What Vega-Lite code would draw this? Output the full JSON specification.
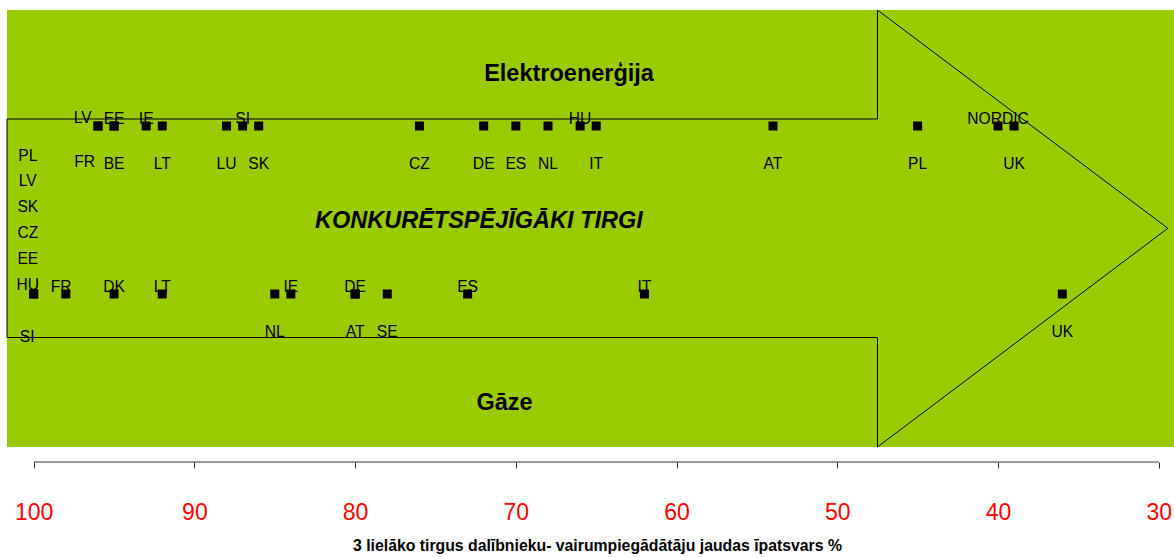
{
  "$schema": "https://vega.github.io/schema/vega-lite/v6.json",
  "width": 1167,
  "height": 452,
  "autosize": {"type": "none"},
  "padding": {"left": 7, "top": 10, "right": 0, "bottom": 95},
  "background": "white",
  "config": {"view": {"stroke": null}, "font": "Liberation Sans"},
  "datasets": {
    "panel": [{"share": 101.661, "share2": 29.048, "level": 15, "level2": 452}],
    "arrow": [
      {"order": 1, "share": 101.661, "level": 343},
      {"order": 2, "share": 47.5, "level": 343},
      {"order": 3, "share": 47.5, "level": 452},
      {"order": 4, "share": 29.43, "level": 233.7},
      {"order": 5, "share": 47.5, "level": 15},
      {"order": 6, "share": 47.5, "level": 124.5},
      {"order": 7, "share": 101.661, "level": 124.5},
      {"order": 8, "share": 101.661, "level": 343}
    ],
    "axisline": [{"share": 100, "share2": 30, "level": 0}],
    "points": [
      {"market": "Elektroenerģija", "country": "LV", "share": 96, "level": 336, "side": "above-shift"},
      {"market": "Elektroenerģija", "country": "FR", "share": 96, "level": 336, "side": "below-shift"},
      {"market": "Elektroenerģija", "country": "EE", "share": 95, "level": 336, "side": "above"},
      {"market": "Elektroenerģija", "country": "BE", "share": 95, "level": 336, "side": "below"},
      {"market": "Elektroenerģija", "country": "IE", "share": 93, "level": 336, "side": "above"},
      {"market": "Elektroenerģija", "country": "LT", "share": 92, "level": 336, "side": "below"},
      {"market": "Elektroenerģija", "country": "LU", "share": 88, "level": 336, "side": "below"},
      {"market": "Elektroenerģija", "country": "SI", "share": 87, "level": 336, "side": "above"},
      {"market": "Elektroenerģija", "country": "SK", "share": 86, "level": 336, "side": "below"},
      {"market": "Elektroenerģija", "country": "CZ", "share": 76, "level": 336, "side": "below"},
      {"market": "Elektroenerģija", "country": "DE", "share": 72, "level": 336, "side": "below"},
      {"market": "Elektroenerģija", "country": "ES", "share": 70, "level": 336, "side": "below"},
      {"market": "Elektroenerģija", "country": "NL", "share": 68, "level": 336, "side": "below"},
      {"market": "Elektroenerģija", "country": "HU", "share": 66, "level": 336, "side": "above"},
      {"market": "Elektroenerģija", "country": "IT", "share": 65, "level": 336, "side": "below"},
      {"market": "Elektroenerģija", "country": "AT", "share": 54, "level": 336, "side": "below"},
      {"market": "Elektroenerģija", "country": "PL", "share": 45, "level": 336, "side": "below"},
      {"market": "Elektroenerģija", "country": "NORDIC", "share": 40, "level": 336, "side": "above"},
      {"market": "Elektroenerģija", "country": "UK", "share": 39, "level": 336, "side": "below"},
      {"market": "Gāze", "country": "PL\nLV\nSK\nCZ\nEE\nHU", "share": 100, "level": 168, "side": "stack"},
      {"market": "Gāze", "country": "SI", "share": 100, "level": 168, "side": "below-stack"},
      {"market": "Gāze", "country": "FR", "share": 98, "level": 168, "side": "above-nudge"},
      {"market": "Gāze", "country": "DK", "share": 95, "level": 168, "side": "above"},
      {"market": "Gāze", "country": "LT", "share": 92, "level": 168, "side": "above"},
      {"market": "Gāze", "country": "NL", "share": 85, "level": 168, "side": "below"},
      {"market": "Gāze", "country": "IE", "share": 84, "level": 168, "side": "above"},
      {"market": "Gāze", "country": "DE", "share": 80, "level": 168, "side": "above"},
      {"market": "Gāze", "country": "AT", "share": 80, "level": 168, "side": "below"},
      {"market": "Gāze", "country": "SE", "share": 78, "level": 168, "side": "below"},
      {"market": "Gāze", "country": "ES", "share": 73, "level": 168, "side": "above"},
      {"market": "Gāze", "country": "IT", "share": 62, "level": 168, "side": "above"},
      {"market": "Gāze", "country": "UK", "share": 36, "level": 168, "side": "below"}
    ],
    "titles": [
      {"text": "Elektroenerģija", "share": 66.69, "level": 381.3, "style": "normal"},
      {"text": "Gāze", "share": 70.7, "level": 52, "style": "normal"},
      {"text": "KONKURĒTSPĒJĪGĀKI TIRGI", "share": 72.3, "level": 233.7, "style": "italic"}
    ]
  },
  "encoding": {
    "x": {
      "field": "share",
      "type": "quantitative",
      "scale": {"domain": [29.048, 101.661], "reverse": true, "nice": false, "zero": false},
      "axis": {
        "values": [100, 90, 80, 70, 60, 50, 40, 30],
        "domain": false,
        "grid": false,
        "ticks": true,
        "tickSize": 6,
        "tickColor": "#333333",
        "tickWidth": 1,
        "labelColor": "#FF0000",
        "labelFont": "Liberation Sans",
        "labelFontSize": 23,
        "labelPadding": 33,
        "labelFlush": false,
        "labelOverlap": false,
        "title": "3 lielāko tirgus dalībnieku- vairumpiegādātāju jaudas īpatsvars  %",
        "titleFont": "Liberation Sans",
        "titleFontSize": 15.8,
        "titleFontWeight": "bold",
        "titleColor": "#000000",
        "titleBaseline": "alphabetic",
        "titleAlign": "center",
        "titleX": 590,
        "titleY": 88
      }
    },
    "y": {
      "field": "level",
      "type": "quantitative",
      "scale": {"domain": [0, 452], "nice": false, "zero": false},
      "axis": null
    }
  },
  "layer": [
    {
      "data": {"name": "panel"},
      "mark": {"type": "rect", "color": "#99CC00"},
      "encoding": {"x2": {"field": "share2"}, "y2": {"field": "level2"}}
    },
    {
      "data": {"name": "arrow"},
      "mark": {"type": "line", "color": "#000000", "strokeWidth": 1},
      "encoding": {"order": {"field": "order", "type": "quantitative"}}
    },
    {
      "data": {"name": "axisline"},
      "mark": {"type": "rule", "color": "#333333", "strokeWidth": 1},
      "encoding": {"x2": {"field": "share2"}}
    },
    {
      "data": {"name": "points"},
      "mark": {"type": "point", "shape": "square", "filled": true, "color": "#000000", "size": 81, "opacity": 1}
    },
    {
      "data": {"name": "points"},
      "transform": [{"filter": "datum.side == 'above'"}],
      "mark": {"type": "text", "fontSize": 15.6, "color": "#000000", "align": "center", "baseline": "middle", "dy": -7},
      "encoding": {"text": {"field": "country"}}
    },
    {
      "data": {"name": "points"},
      "transform": [{"filter": "datum.side == 'below'"}],
      "mark": {"type": "text", "fontSize": 15.6, "color": "#000000", "align": "center", "baseline": "middle", "dy": 38.3},
      "encoding": {"text": {"field": "country"}}
    },
    {
      "data": {"name": "points"},
      "transform": [{"filter": "datum.side == 'above-shift'"}],
      "mark": {"type": "text", "fontSize": 15.6, "color": "#000000", "align": "center", "baseline": "middle", "dx": -15.3, "dy": -7.8},
      "encoding": {"text": {"field": "country"}}
    },
    {
      "data": {"name": "points"},
      "transform": [{"filter": "datum.side == 'below-shift'"}],
      "mark": {"type": "text", "fontSize": 15.6, "color": "#000000", "align": "center", "baseline": "middle", "dx": -13.3, "dy": 36.4},
      "encoding": {"text": {"field": "country"}}
    },
    {
      "data": {"name": "points"},
      "transform": [{"filter": "datum.side == 'above-nudge'"}],
      "mark": {"type": "text", "fontSize": 15.6, "color": "#000000", "align": "center", "baseline": "middle", "dx": -4.8, "dy": -7},
      "encoding": {"text": {"field": "country"}}
    },
    {
      "data": {"name": "points"},
      "transform": [{"filter": "datum.side == 'stack'"}],
      "mark": {"type": "text", "fontSize": 15.6, "color": "#000000", "align": "center", "baseline": "middle", "lineBreak": "\n", "lineHeight": 25.8, "dx": -5.9, "dy": -138.3},
      "encoding": {"text": {"field": "country"}}
    },
    {
      "data": {"name": "points"},
      "transform": [{"filter": "datum.side == 'below-stack'"}],
      "mark": {"type": "text", "fontSize": 15.6, "color": "#000000", "align": "center", "baseline": "middle", "dx": -6.5, "dy": 43.1},
      "encoding": {"text": {"field": "country"}}
    },
    {
      "data": {"name": "titles"},
      "transform": [{"filter": "datum.style == 'normal'"}],
      "mark": {"type": "text", "fontSize": 23.5, "fontWeight": "bold", "color": "#000000", "align": "center", "baseline": "alphabetic"},
      "encoding": {"text": {"field": "text"}}
    },
    {
      "data": {"name": "titles"},
      "transform": [{"filter": "datum.style == 'italic'"}],
      "mark": {"type": "text", "fontSize": 23.5, "fontWeight": "bold", "fontStyle": "italic", "color": "#000000", "align": "center", "baseline": "alphabetic"},
      "encoding": {"text": {"field": "text"}}
    }
  ]
}
